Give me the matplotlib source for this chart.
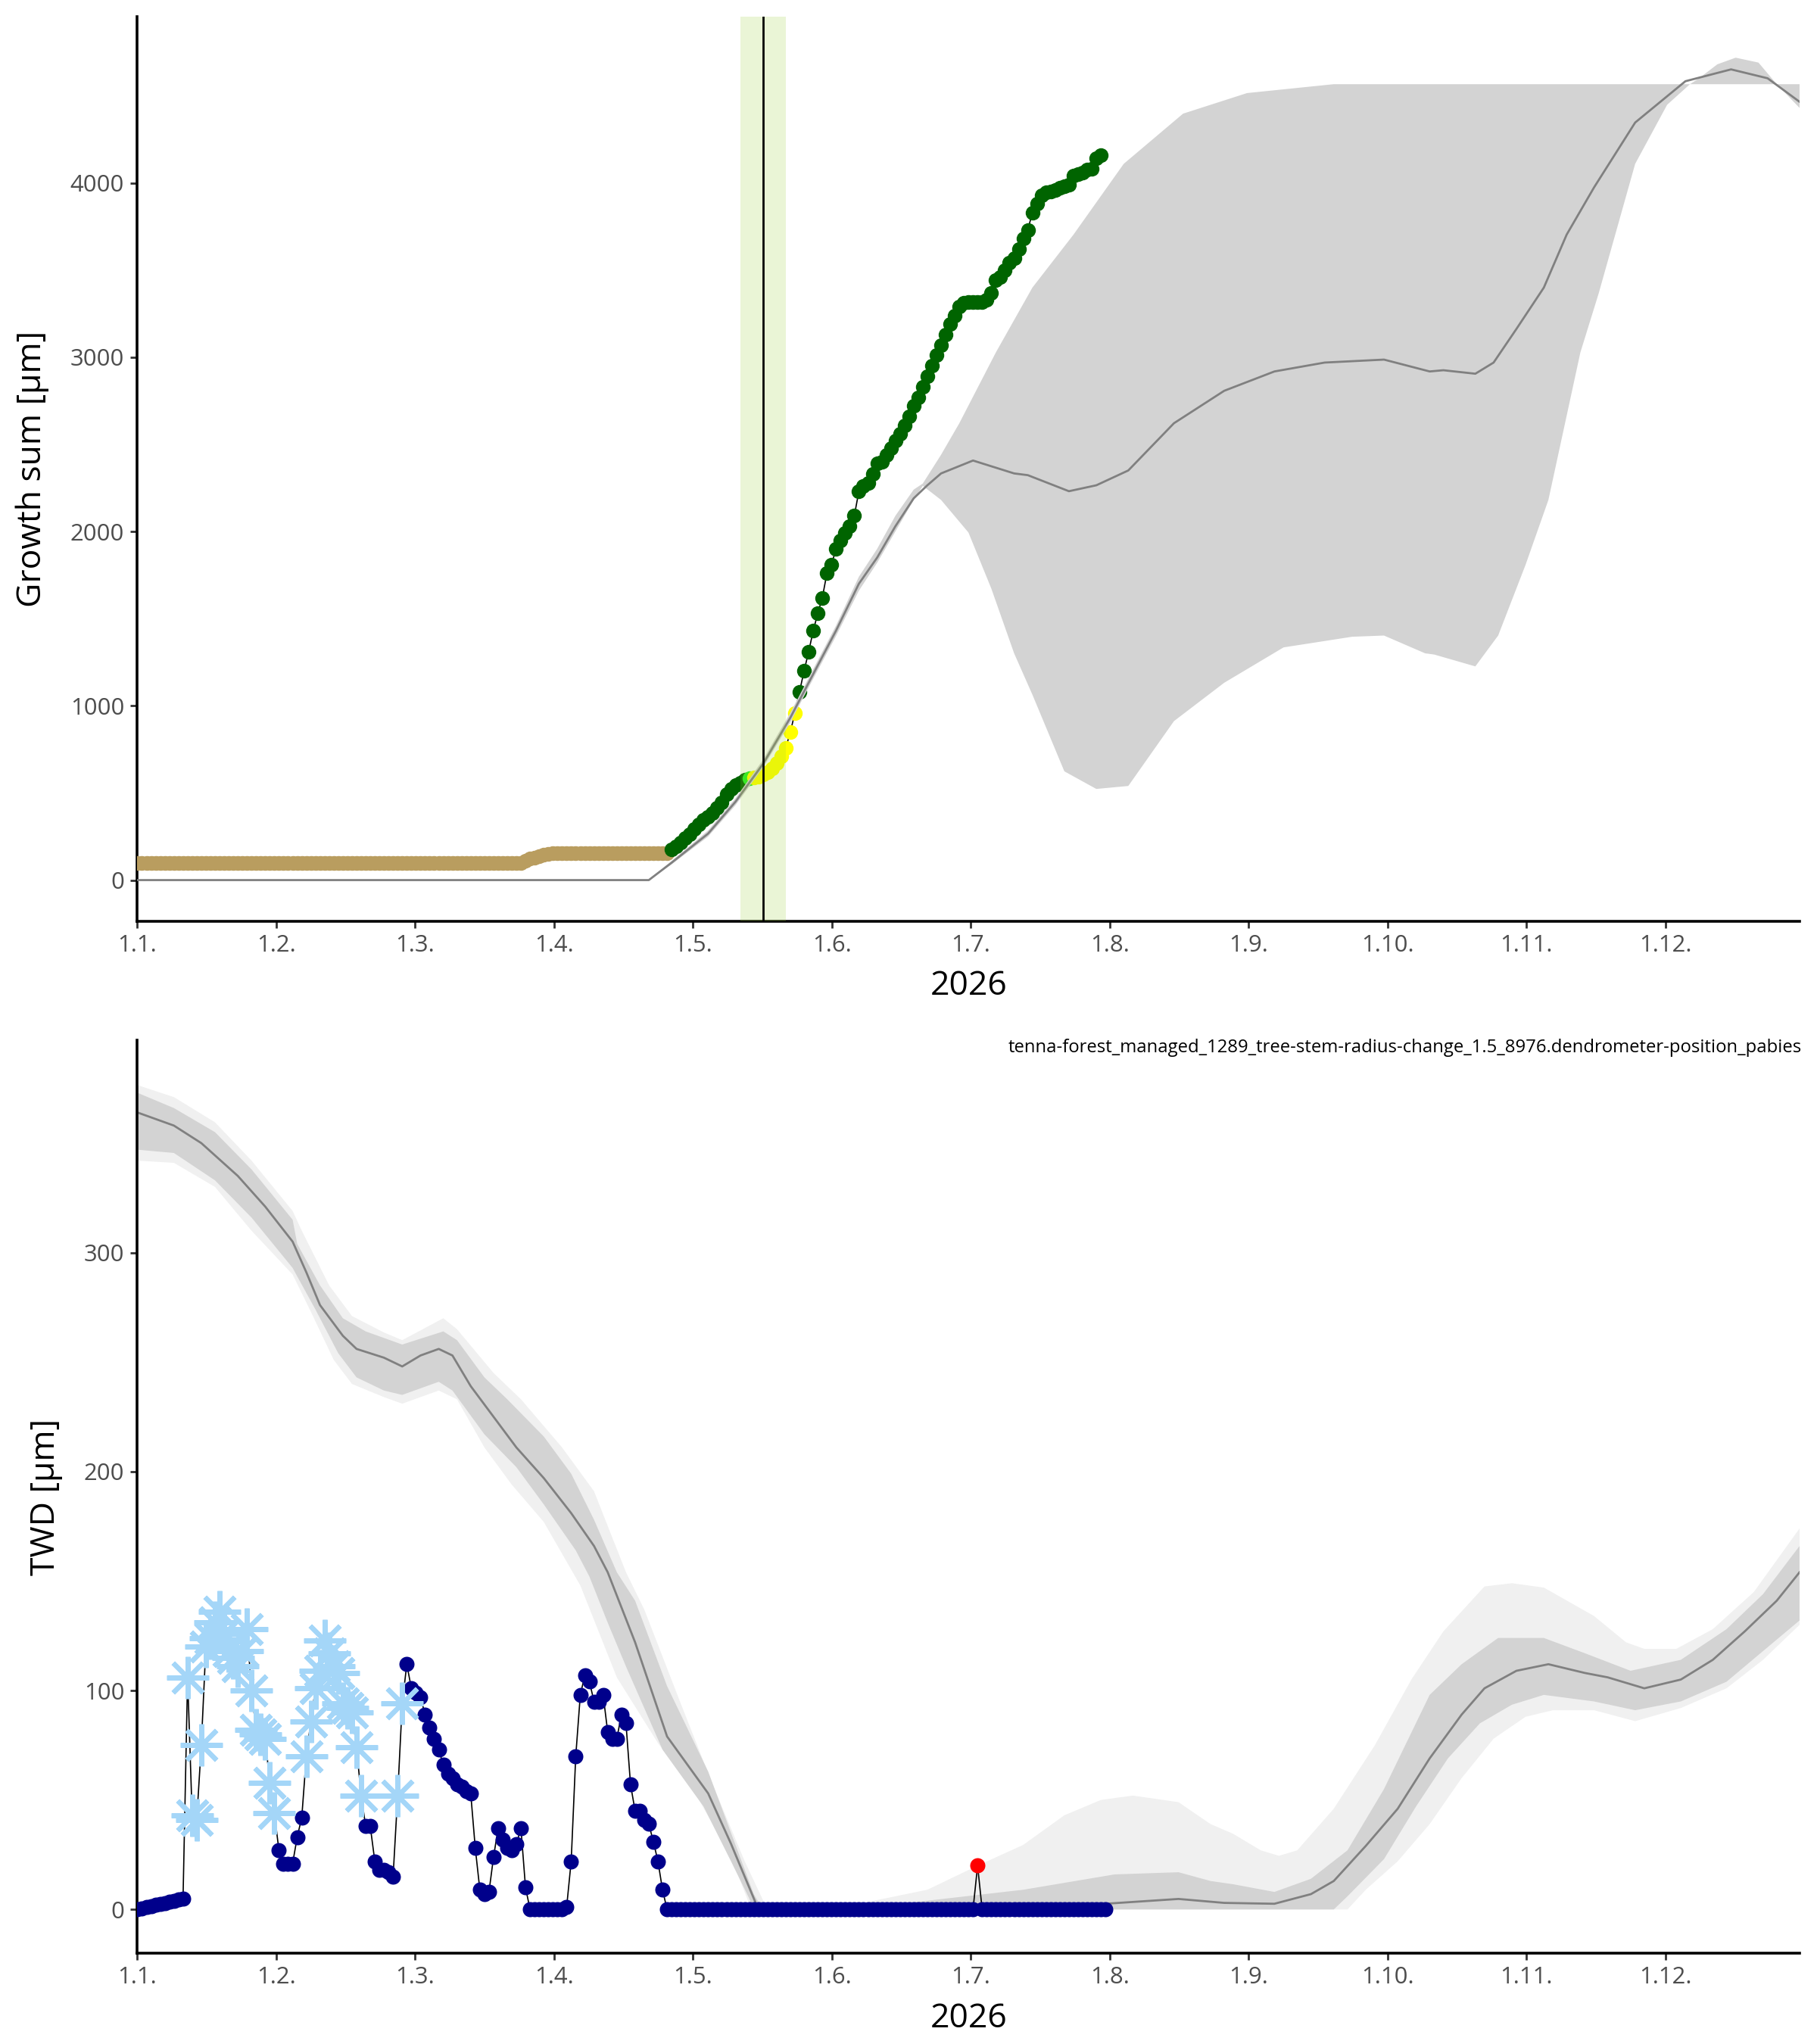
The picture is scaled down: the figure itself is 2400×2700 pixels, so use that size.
import numpy as np
import matplotlib
matplotlib.use("Agg")
import matplotlib.pyplot as plt
from matplotlib.markers import MarkerStyle

plt.rcParams['font.family'] = ['Open Sans', 'DejaVu Sans']

# ---- top panel: growth sum ----
# daily points, x = day of year (0 = 1 Jan)
tan_start = 0
tan_vals = [100] * 85 + [110, 125, 128, 135, 145, 150] + [155] * 26
green1_start = 117
green1_vals = [175, 195, 215, 240, 265, 295, 320, 345, 365, 385, 415, 445,
               495, 525, 545, 560, 575]
lime_start = 134
lime_vals = [585]
yellow_start = 135
yellow_vals = [590, 595, 605, 620, 640, 670, 710, 760, 850, 960]
green2_start = 145
green2_vals = [1080, 1200, 1310, 1430, 1530, 1620, 1760, 1810, 1900, 1950,
               1990, 2030, 2090, 2230, 2260, 2280, 2330, 2390, 2400, 2440,
               2480, 2520, 2560, 2610, 2660, 2720, 2770, 2830, 2890, 2950,
               3010, 3070, 3130, 3190, 3240, 3290, 3310, 3315, 3315, 3315,
               3315, 3330, 3370, 3440, 3460, 3500, 3540, 3570, 3620, 3680,
               3730, 3830, 3880, 3930, 3945, 3950, 3960, 3970, 3980, 3990,
               4040, 4050, 4060, 4075, 4080, 4140, 4160]

# reference curve (mean) and its range
gmean_day = [0, 112, 117, 125, 131, 137, 143, 147, 153, 158, 162, 166, 170,
             173, 176, 183, 192, 195, 204, 210, 217, 227, 238, 249, 260, 273,
             283, 286, 293, 297, 302, 308, 313, 319, 328, 339, 349, 357, 364]
gmean_val = [0, 0, 100, 267, 450, 666, 932, 1132, 1431, 1700, 1850, 2030, 2190,
             2265, 2333, 2407, 2333, 2323, 2231, 2265, 2350, 2621, 2807, 2918,
             2969, 2986, 2918, 2925, 2905, 2969, 3162, 3399, 3703, 3974, 4346,
             4583, 4651, 4600, 4465]
ghi_day = [112, 117, 125, 131, 137, 143, 147, 153, 158, 162, 166, 170, 172,
           176, 180, 188, 196, 205, 216, 229, 243, 262, 340, 342, 346, 350,
           355, 359, 364]
ghi_val = [0, 110, 285, 470, 690, 960, 1160, 1460, 1740, 1900, 2090, 2240,
           2275, 2440, 2621, 3027, 3399, 3703, 4109, 4397, 4515, 4566, 4566,
           4600, 4680, 4718, 4690, 4566, 4566]
glo_day = [112, 117, 125, 131, 137, 143, 147, 153, 158, 162, 166, 170, 172,
           176, 182, 187, 192, 196, 203, 210, 217, 227, 238, 251, 266, 273,
           282, 284, 293, 298, 304, 309, 316, 320, 328, 335, 340, 359, 364]
glo_val = [0, 90, 250, 430, 645, 905, 1105, 1400, 1660, 1820, 2000, 2180,
           2262, 2181, 1994, 1673, 1301, 1064, 624, 523, 540, 912, 1132, 1335,
           1396, 1403, 1301, 1294, 1226, 1403, 1809, 2181, 3027, 3365, 4109,
           4448, 4566, 4566, 4430]

onset_window = (132.1, 142.0)
onset_day = 137.0

# ---- bottom panel: TWD ----
twd_vals = [0, 0.5, 1, 1.5, 2, 2.5, 3, 3.5, 4, 4.5, 5,
            106, 43, 41, 75, 120, 124, 131, 136, 126, 118, 115, 111, 118, 128,
            100, 82, 80, 78, 58, 44,
            27, 21, 21, 21, 33, 42,
            70, 86, 101, 109, 123, 117, 111, 108, 94, 92, 90, 74, 52,
            38, 38, 22, 18, 18, 17, 15,
            52, 94,
            112, 101, 99, 97, 89, 83, 78, 73, 66, 62, 60, 57, 56, 54, 53,
            28, 9, 7, 8, 24, 37, 32, 28, 27, 30, 37, 10,
            0, 0, 0, 0, 0, 0, 0, 0, 1, 22, 70, 98, 107, 104, 95, 95, 98, 81,
            78, 78, 89, 85, 57, 45, 45, 41, 39, 31, 22, 9] + [0] * 68 + [20] + [0] * 28
frost_days = list(range(11, 31)) + list(range(37, 50)) + [57, 58]
flag_day = 184

tmean_day = [0, 8, 14, 22, 28, 34, 37, 40, 45, 48, 54, 58, 62, 66, 69, 73, 78,
             83, 89, 95, 100, 103, 109, 116, 125, 130, 135, 136, 170, 212, 228,
             238, 249, 257, 262, 269, 276, 283, 290, 295, 302, 309, 317, 322,
             330, 338, 345, 352, 359, 364]
tmean_val = [364, 358, 350, 335, 321, 305, 291, 276, 262, 256, 252, 248, 253,
             256, 253, 239, 225, 211, 197, 181, 166, 154, 122, 79, 53, 30, 5, 0,
             1, 2.6, 4.8, 3, 2.6, 7, 13, 29, 46, 69, 89, 101, 109, 112, 108,
             106, 101, 105, 114, 127, 141, 154]
tdhi_day = [0, 8, 17, 25, 34, 35, 40, 45, 50, 58, 67, 70, 76, 81, 89, 95, 100,
            105, 109, 116, 125, 130, 135, 137, 155, 173, 194, 214, 228, 235,
            240, 249, 257, 265, 273, 283, 290, 298, 308, 317, 327, 338, 348,
            356, 364]
tdhi_val = [373, 366, 355, 338, 315, 304, 285, 270, 264, 258, 264, 260, 243,
            233, 216, 199, 178, 154, 141, 102, 63, 35, 7, 0, 0, 4, 9, 16, 17,
            13, 11.5, 8, 14, 27, 55, 98, 112, 124, 124, 117, 109, 114, 128, 144,
            166]
tdlo_day = [0, 8, 17, 25, 34, 39, 44, 48, 54, 58, 66, 69, 76, 83, 89, 96, 99,
            103, 107, 115, 124, 130, 134, 135, 262, 265, 273, 280, 287, 294,
            301, 308, 319, 328, 338, 348, 356, 364]
tdlo_val = [347, 345.5, 333, 316, 293, 274, 254, 243, 237, 235, 241, 237, 217,
            202, 185, 164, 152, 131, 111, 73, 47, 22, 5, 0, 0, 6, 23, 47, 69,
            85, 93.5, 98, 95, 91, 95, 104, 118, 132]
tlhi_day = [0, 8, 17, 25, 34, 36, 42, 47, 54, 58, 67, 70, 78, 84, 93, 100, 107,
            111, 119, 126, 133, 137.4, 138, 150, 159, 173, 184, 194, 203, 211,
            218, 228, 235, 240, 246, 250, 254, 262, 271, 279, 286, 295, 301,
            308, 319, 326, 330, 337, 345, 354, 364]
tlhi_val = [376.5, 371, 359.5, 342, 319, 310, 285, 271, 263.5, 260, 270, 265,
            245, 233, 211, 191, 154, 137, 94, 57, 22, 2.5, 0, 0, 3, 9, 20, 29.5,
            43, 50, 52, 49, 39, 34.5, 27, 24.5, 27, 46, 75, 105, 127, 147.5,
            149, 147, 134, 122, 119, 119, 128, 145, 174]
tllo_day = [0, 8, 17, 25, 34, 38, 43, 47, 54, 58, 66, 70, 76, 82, 89, 97, 105,
            114, 123, 130, 134, 135, 265, 269, 276, 283, 290, 297, 304, 310,
            319, 328, 338, 348, 356, 364]
tllo_val = [342, 341, 330, 310, 290, 273, 251, 240, 234, 231, 237, 233, 211,
            194, 177, 148, 106, 76, 50, 24, 2.5, 0, 0, 9, 22, 39, 60, 78, 88, 91,
            91, 86, 92, 101, 114, 130]

month_labels = [f"1.{m}." for m in range(1, 13)]
subtitle = "tenna-forest_managed_1289_tree-stem-radius-change_1.5_8976.dendrometer-position_pabies"

TICK_GREY = '#4D4D4D'


def band(ax, hi_day, hi_val, lo_day, lo_val, color, z):
    # polygon: upper edge forward, lower edge backward
    xs = list(hi_day) + list(lo_day)[::-1]
    ys = list(hi_val) + list(lo_val)[::-1]
    ax.fill(xs, ys, color=color, lw=0, zorder=z)


def style_axis(ax, ylim, yticks, ylabel):
    ax.set_xlim(0, 364)
    ax.set_ylim(*ylim)
    ax.set_xticks([k * 365 / 12 for k in range(12)])
    ax.set_xticklabels(month_labels)
    ax.set_yticks(yticks)
    for side in ['top', 'right']:
        ax.spines[side].set_visible(False)
    for side in ['left', 'bottom']:
        ax.spines[side].set_linewidth(1.3)
        ax.spines[side].set_color('black')
    ax.tick_params(direction='out', length=3.2, width=1.0, color='#333333',
                   labelsize=11.2, labelcolor=TICK_GREY, pad=3)
    ax.set_xlabel('2026', fontsize=16, labelpad=6)
    ax.set_ylabel(ylabel, fontsize=16, labelpad=10)


fig = plt.figure(figsize=(12, 13.5), dpi=200)
ax1 = fig.add_axes([0.0756, 0.5493, 0.9148, 0.4426])
ax2 = fig.add_axes([0.0756, 0.0444, 0.9148, 0.4467])

# top panel
phases = [(tan_start, tan_vals, '#B99D5F'),
          (green1_start, green1_vals, '#006400'),
          (lime_start, lime_vals, '#22EE22'),
          (yellow_start, yellow_vals, '#FFFF00'),
          (green2_start, green2_vals, '#006400')]
all_days, all_vals = [], []
for start, vals, col in phases:
    all_days += list(range(start, start + len(vals)))
    all_vals += vals
ax1.plot(all_days, all_vals, color='black', lw=0.6, zorder=2)
for start, vals, col in phases:
    days = list(range(start, start + len(vals)))
    ax1.plot(days, vals, 'o', color=col, ms=7.0, mec='none', zorder=3)

band(ax1, ghi_day, ghi_val, glo_day, glo_val, '#D3D3D3', 4)
ax1.plot(gmean_day, gmean_val, color='#808080', lw=1.0, zorder=5)
ax1.axvspan(*onset_window, color='yellowgreen', alpha=0.2, lw=0, zorder=6)
ax1.axvline(onset_day, color='black', lw=1.0, zorder=7)
style_axis(ax1, (-236, 4954), [0, 1000, 2000, 3000, 4000], 'Growth sum [µm]')

# bottom panel
band(ax2, tlhi_day, tlhi_val, tllo_day, tllo_val, '#F0F0F0', 1)
band(ax2, tdhi_day, tdhi_val, tdlo_day, tdlo_val, '#D3D3D3', 1.5)
ax2.plot(tmean_day, tmean_val, color='#808080', lw=1.0, zorder=2)

twd_days = list(range(len(twd_vals)))
ax2.plot(twd_days, twd_vals, color='black', lw=0.6, zorder=3)
plain = [d for d in twd_days if d not in frost_days and d != flag_day]
ax2.plot(plain, [twd_vals[d] for d in plain], 'o', color='#00008B', ms=7.2,
         mec='none', zorder=4)
snow = MarkerStyle((8, 2, 0), capstyle='round')
ax2.plot(frost_days, [twd_vals[d] for d in frost_days], ls='none',
         marker=snow, ms=20, mew=2.3, color='#A4D6F8', zorder=5)
ax2.plot([flag_day], [twd_vals[flag_day]], 'o', color='red', ms=7.2,
         mec='none', zorder=6)
style_axis(ax2, (-20, 397), [0, 100, 200, 300], 'TWD [µm]')
ax2.text(0.9915, 1 - 1372 / 2700, subtitle, transform=fig.transFigure,
         ha='right', va='top', fontsize=8.6)

fig.savefig('out.png', dpi=200)
